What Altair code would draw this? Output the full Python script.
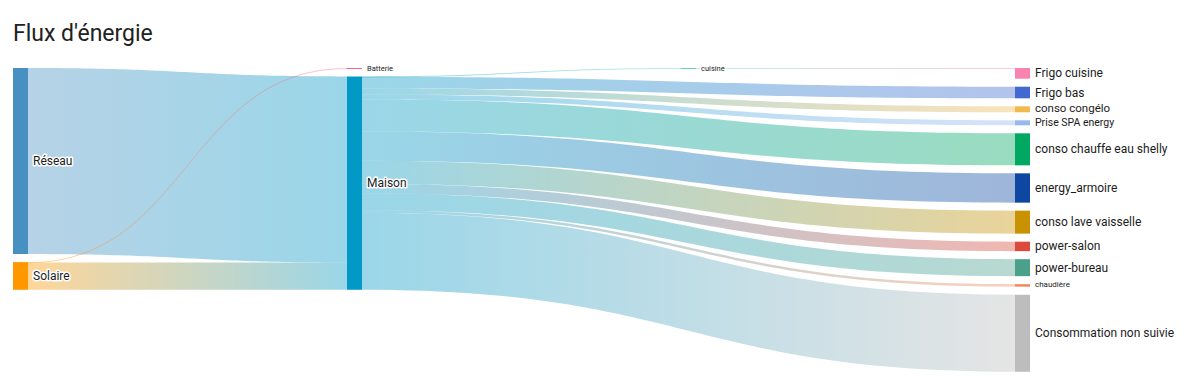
import altair as alt
import pandas as pd
import numpy as np

# ---------------- data ----------------
chart_title = "Flux d'énergie"

node_names = ["Réseau", "Solaire", "Batterie", "Maison", "cuisine",
              "Frigo cuisine", "Frigo bas", "conso congélo", "Prise SPA energy",
              "conso chauffe eau shelly", "energy_armoire", "conso lave vaisselle",
              "power-salon", "power-bureau", "chaudière", "Consommation non suivie"]
node_columns = [0, 0, 1, 1, 2, 3, 3, 3, 3, 3, 3, 3, 3, 3, 3, 3]
node_values = [18.6, 2.77, 0.04, 21.33, 0.04,
               1.07, 1.16, 0.60, 0.50, 3.20, 2.93, 2.30, 0.95, 1.70, 0.25, 7.70]
node_colors = ["#488fc2", "#ff9800", "#f06292", "#0399c6", "#5fd4b4",
               "#f883b0", "#4169d0", "#f2b94f", "#98b9ef", "#00a862", "#0d47a1",
               "#c99200", "#db4a3c", "#4ba08c", "#f48758", "#bdbdbd"]

link_sources = ["Réseau", "Solaire", "Solaire", "Maison", "Maison", "Maison", "Maison",
                "Maison", "Maison", "Maison", "Maison", "Maison", "Maison", "Maison", "cuisine"]
link_targets = ["Maison", "Batterie", "Maison", "cuisine", "Frigo bas", "conso congélo",
                "Prise SPA energy", "conso chauffe eau shelly", "energy_armoire",
                "conso lave vaisselle", "power-salon", "power-bureau", "chaudière",
                "Consommation non suivie", "Frigo cuisine"]
link_values = [18.6, 0.04, 2.73, 0.04, 1.16, 0.60, 0.50, 3.20, 2.93, 2.30, 0.95, 1.70,
               0.25, 7.70, 0.04]

# ---------------- layout ----------------
W, H = 1202, 376
PAD_TOP = 50
TOP, BOTTOM = 68.0, 371.7
COL_X = [13, 347, 681, 1015]
NODE_W = 15
GAP = 8
MIN_PX = 1.0

cols = sorted(set(node_columns))
col_sums = {c: sum(v for v, cc in zip(node_values, node_columns) if cc == c) for c in cols}
col_counts = {c: node_columns.count(c) for c in cols}
k = min((BOTTOM - TOP - GAP * (col_counts[c] - 1)) / col_sums[c] for c in cols)

nodes = {}
cursor = {c: TOP for c in cols}
for name, c, v, col in zip(node_names, node_columns, node_values, node_colors):
    h = max(v * k, MIN_PX)
    y0 = cursor[c]
    nodes[name] = dict(name=name, x=COL_X[c], x2=COL_X[c] + NODE_W, y=y0, y2=y0 + h,
                       color=col, h=v * k)
    cursor[c] = y0 + v * k + GAP

node_df = pd.DataFrame(list(nodes.values()))
node_df["cy"] = (node_df["y"] + node_df["y2"]) / 2
node_df["lx"] = node_df["x2"] + 5
node_df["fs"] = np.clip(node_df["h"] + 5.5, 7.5, 12)

x_scale = alt.Scale(domain=[0, W], nice=False, zero=False)
y_scale = alt.Scale(domain=[PAD_TOP, H], nice=False, zero=False, reverse=True)

src_off = {n: nodes[n]["y"] for n in nodes}
tgt_off = {n: nodes[n]["y"] for n in nodes}

t = np.linspace(0, 1, 60)
layers = []
for i, (s, d, v) in enumerate(zip(link_sources, link_targets, link_values)):
    h = v * k
    ys0 = src_off[s]; src_off[s] += h
    yt0 = tgt_off[d]; tgt_off[d] += h
    x0 = nodes[s]["x2"]; x1 = nodes[d]["x"]
    xm = (x0 + x1) / 2
    xs = (1 - t) ** 3 * x0 + 3 * (1 - t) ** 2 * t * xm + 3 * (1 - t) * t ** 2 * xm + t ** 3 * x1
    w = (1 - t) ** 3 + 3 * (1 - t) ** 2 * t
    ytop = w * ys0 + (1 - w) * yt0
    ybot = ytop + max(h, MIN_PX)
    df = pd.DataFrame({"x": xs, "y": ytop, "y2": ybot})
    grad = alt.LinearGradient(
        gradient="linear",
        stops=[alt.GradientStop(color=nodes[s]["color"], offset=0),
               alt.GradientStop(color=nodes[d]["color"], offset=1)],
        x1=0, x2=1, y1=0, y2=0)
    layers.append(
        alt.Chart(df).mark_area(color=grad, opacity=0.4).encode(
            x=alt.X("x:Q", scale=x_scale, axis=None),
            y=alt.Y("y:Q", scale=y_scale, axis=None),
            y2="y2:Q",
        )
    )

node_layer = alt.Chart(node_df).mark_rect().encode(
    x=alt.X("x:Q", scale=x_scale, axis=None), x2="x2:Q",
    y=alt.Y("y:Q", scale=y_scale, axis=None), y2="y2:Q",
    color=alt.Color("color:N", scale=None),
)

label_enc = dict(
    x=alt.X("lx:Q", scale=x_scale, axis=None),
    y=alt.Y("cy:Q", scale=y_scale, axis=None),
    text="name:N",
    size=alt.Size("fs:Q", scale=None),
)
halo = alt.Chart(node_df).mark_text(
    align="left", baseline="middle", font="Roboto", stroke="white",
    strokeWidth=3, strokeJoin="round", color="white").encode(**label_enc)
labels = alt.Chart(node_df).mark_text(
    align="left", baseline="middle", font="Roboto", color="#1c1c1c").encode(**label_enc)

chart = alt.layer(*layers, node_layer, halo, labels).properties(
    width=W, height=H - PAD_TOP,
    padding={"left": 0, "top": PAD_TOP, "right": 0, "bottom": 0},
    autosize=alt.AutoSizeParams(type="none"),
    title=alt.TitleParams(chart_title, anchor="start", frame="group", dx=13, offset=9,
                          dy=23, baseline="alphabetic", font="Roboto", fontSize=23,
                          fontWeight="normal", color="#212121"),
).configure_view(stroke=None)

chart.save("out.html", embed_options={"renderer": "svg", "actions": False})
